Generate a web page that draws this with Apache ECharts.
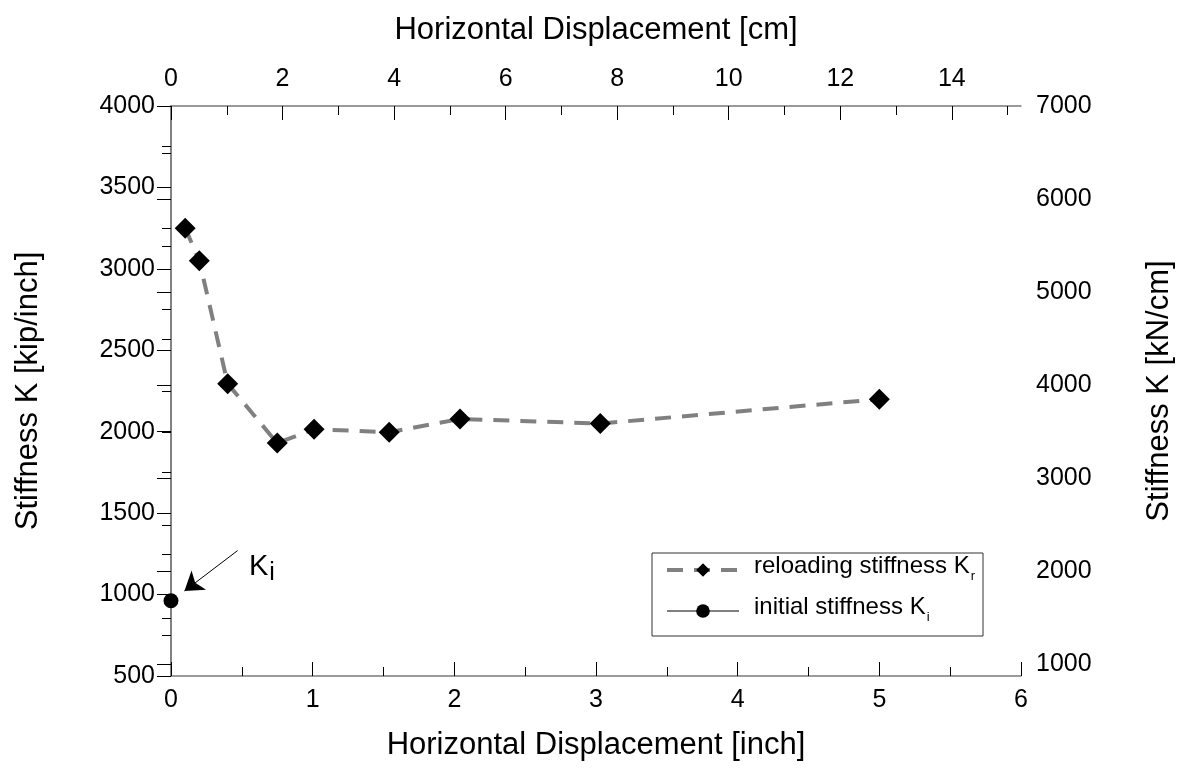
<!DOCTYPE html>
<html>
<head>
<meta charset="utf-8">
<script src="https://cdn.jsdelivr.net/npm/echarts@6/dist/echarts.min.js"></script>
<style>
  html, body { margin: 0; padding: 0; background: #fff; }
  #chart { width: 1183px; height: 776px; }
</style>
</head>
<body>
<div id="chart"></div>
<script>
// Reloading stiffness Kr measured at increasing displacement amplitudes
const reloadDisp = [0.1, 0.2, 0.4, 0.75, 1.01, 1.54, 2.04, 3.03, 5.0];   // inch
const reloadK = [3250, 3050, 2295, 1930, 2015, 1997, 2078, 2050, 2200];  // kip/inch

// Initial stiffness Ki
const initialDisp = [0];
const initialK = [962];

// Secondary-axis tick values (SI units)
const cmMajor = [0, 2, 4, 6, 8, 10, 12, 14];
const cmMinor = [1, 3, 5, 7, 9, 11, 13, 15];
const kNMajor = [1000, 2000, 3000, 4000, 5000, 6000, 7000];
const kNMinor = [1500, 2500, 3500, 4500, 5500, 6500];

const IN_TO_CM = 2.54;
const KIPIN_TO_KNCM = 4.4482216 / 2.54;

const FONT = "'Liberation Sans', Arial, sans-serif";
const AXIS_LINE = '#7a7a7a';

const chart = echarts.init(document.getElementById('chart'), null, { renderer: 'canvas' });

const tickLabel = { fontSize: 25, color: '#000', fontFamily: FONT };
const nameStyle = { fontSize: 31, color: '#000', fontFamily: FONT };

const option = {
  animation: false,
  backgroundColor: '#fff',
  grid: { left: 171, right: 162, top: 106, bottom: 100, containLabel: false },
  legend: {
    orient: 'vertical',
    left: 652,
    top: 553,
    padding: [1, 8, 12, 13],
    itemGap: 12,
    itemWidth: 72,
    itemHeight: 17,
    borderColor: '#333',
    borderWidth: 1,
    borderRadius: 0,
    selectedMode: false,
    data: [
      { name: 'reloading stiffness Kr', lineStyle: { color: '#808080', width: 4, type: [16, 11] } },
      { name: 'initial stiffness Ki', lineStyle: { color: '#000', width: 1, type: 'solid' } }
    ],
    formatter: function (name) {
      const sub = name.slice(-1);
      return '{t|' + name.slice(0, -1) + '}{s|' + sub + '}';
    },
    textStyle: {
      fontFamily: FONT,
      color: '#000',
      rich: {
        t: { fontSize: 24, fontFamily: FONT, color: '#000', lineHeight: 26, verticalAlign: 'bottom', padding: [0, 0, 5, 10] },
        s: { fontSize: 13, fontFamily: FONT, color: '#000', lineHeight: 26, verticalAlign: 'bottom', padding: [0, 0, 0, 1] }
      }
    }
  },
  xAxis: [
    {
      type: 'value',
      position: 'bottom',
      min: 0, max: 6, interval: 1,
      name: 'Horizontal Displacement [inch]',
      nameLocation: 'middle',
      nameGap: 54,
      nameTextStyle: nameStyle,
      axisLine: { lineStyle: { color: AXIS_LINE, width: 1.5 } },
      axisTick: { inside: true, length: 14, lineStyle: { color: '#000', width: 1 } },
      minorTick: { show: true, splitNumber: 2, length: 9, lineStyle: { color: '#000', width: 1 } },
      axisLabel: Object.assign({ margin: 12 }, tickLabel),
      splitLine: { show: false }
    },
    {
      type: 'value',
      position: 'top',
      min: 0, max: 6,
      name: 'Horizontal Displacement [cm]',
      nameLocation: 'middle',
      nameGap: 60,
      nameTextStyle: nameStyle,
      axisLine: { lineStyle: { color: AXIS_LINE, width: 1.5 } },
      axisTick: { inside: true, length: 14, customValues: cmMajor.map(v => v / IN_TO_CM), lineStyle: { color: '#000', width: 1 } },
      axisLabel: Object.assign({
        margin: 14,
        customValues: cmMajor.map(v => v / IN_TO_CM),
        formatter: v => String(Math.round(v * IN_TO_CM))
      }, tickLabel),
      splitLine: { show: false }
    },
    {
      type: 'value',
      position: 'top',
      min: 0, max: 6,
      axisLine: { show: false },
      axisTick: { inside: true, length: 9, customValues: cmMinor.map(v => v / IN_TO_CM), lineStyle: { color: '#000', width: 1 } },
      axisLabel: { show: false },
      splitLine: { show: false }
    }
  ],
  yAxis: [
    {
      type: 'value',
      position: 'left',
      min: 500, max: 4000, interval: 500,
      name: 'Stiffness K [kip/inch]',
      nameLocation: 'middle',
      nameGap: 127,
      nameTextStyle: nameStyle,
      axisLine: { lineStyle: { color: AXIS_LINE, width: 1.5 } },
      axisTick: { inside: false, length: 14, lineStyle: { color: '#000', width: 1 } },
      minorTick: { show: true, splitNumber: 2, length: 9, lineStyle: { color: '#000', width: 1 } },
      axisLabel: Object.assign({ margin: 16, formatter: v => String(v) }, tickLabel),
      splitLine: { show: false }
    },
    {
      type: 'value',
      position: 'right',
      min: 500, max: 4000,
      name: 'Stiffness K [kN/cm]',
      nameLocation: 'middle',
      nameGap: 123,
      nameRotate: 90,
      nameTextStyle: nameStyle,
      axisLine: { lineStyle: { color: AXIS_LINE, width: 1.5 } },
      axisTick: { inside: true, length: 14, customValues: kNMajor.map(v => v / KIPIN_TO_KNCM), lineStyle: { color: '#000', width: 1 } },
      axisLabel: Object.assign({
        margin: 15,
        customValues: kNMajor.map(v => v / KIPIN_TO_KNCM),
        formatter: v => String(Math.round(v * KIPIN_TO_KNCM / 100) * 100)
      }, tickLabel),
      splitLine: { show: false }
    },
    {
      type: 'value',
      position: 'right',
      min: 500, max: 4000,
      axisLine: { show: false },
      axisTick: { inside: true, length: 9, customValues: kNMinor.map(v => v / KIPIN_TO_KNCM), lineStyle: { color: '#000', width: 1 } },
      axisLabel: { show: false },
      splitLine: { show: false }
    }
  ],
  series: [
    {
      name: 'reloading stiffness Kr',
      type: 'line',
      xAxisIndex: 0,
      yAxisIndex: 0,
      data: reloadDisp.map((x, i) => [x, reloadK[i]]),
      symbol: 'diamond',
      symbolSize: 21,
      itemStyle: { color: '#000' },
      lineStyle: { color: '#808080', width: 4, type: [16, 11] },
      clip: false,
      z: 3
    },
    {
      name: 'initial stiffness Ki',
      type: 'line',
      xAxisIndex: 0,
      yAxisIndex: 0,
      data: initialDisp.map((x, i) => [x, initialK[i]]),
      symbol: 'circle',
      symbolSize: 15,
      itemStyle: { color: '#000' },
      lineStyle: { color: '#000', width: 1 },
      clip: false,
      z: 4,
      markLine: {
        silent: true,
        symbol: ['none', 'arrow'],
        symbolSize: 18,
        lineStyle: { color: '#000', width: 1, type: 'solid' },
        label: { show: false },
        data: [[{ coord: [0.47, 1270] }, { coord: [0.095, 1022] }]]
      }
    }
  ],
  graphic: [
    {
      type: 'text',
      left: 249,
      top: 552,
      style: {
        text: '{k|K}{i|i}',
        rich: {
          k: { fontSize: 29, fontFamily: FONT, fill: '#000', verticalAlign: 'top' },
          i: { fontSize: 25, fontFamily: FONT, fill: '#000', verticalAlign: 'top', padding: [9, 0, 0, 1] }
        }
      }
    }
  ]
};

chart.setOption(option);
</script>
</body>
</html>
